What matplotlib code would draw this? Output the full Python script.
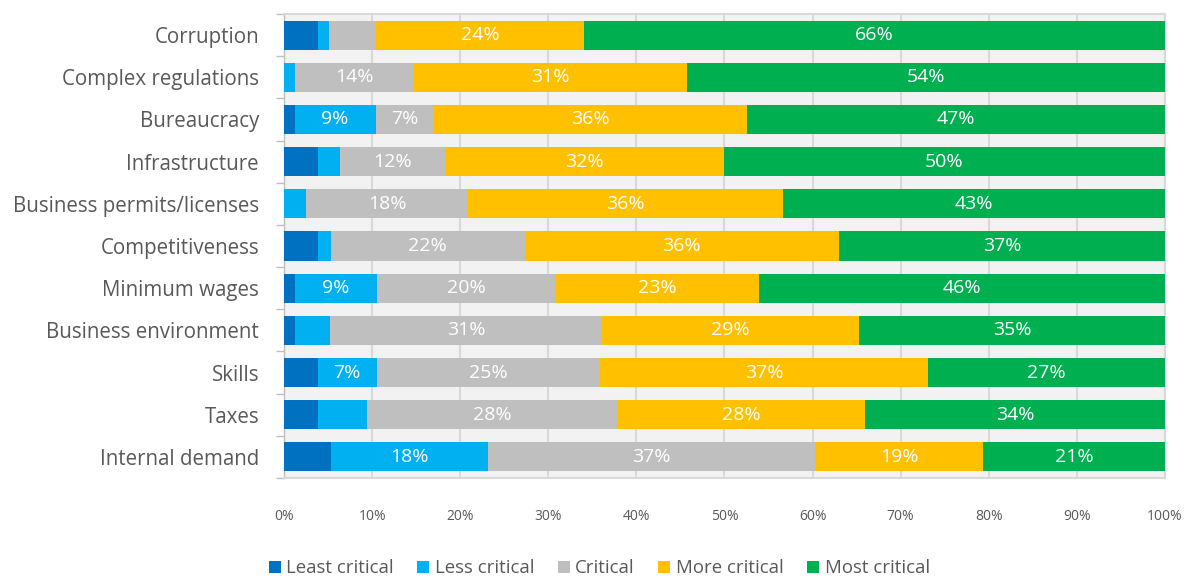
import matplotlib
matplotlib.use("Agg")
import matplotlib.pyplot as plt
import numpy as np

categories = ["Corruption", "Complex regulations", "Bureaucracy", "Infrastructure",
              "Business permits/licenses", "Competitiveness", "Minimum wages",
              "Business environment", "Skills", "Taxes", "Internal demand"]
series_names = ["Least critical", "Less critical", "Critical", "More critical", "Most critical"]
least_critical = [3.8, 0.0, 1.2, 3.8, 0.0, 3.9, 1.2, 1.2, 3.8, 3.9, 5.3]
less_critical = [1.3, 1.2, 9.2, 2.6, 2.5, 1.4, 9.4, 4.0, 6.7, 5.5, 17.8]
critical = [5.3, 13.5, 6.6, 11.9, 18.4, 22.0, 20.3, 30.9, 25.4, 28.4, 37.2]
more_critical = [23.7, 31.1, 35.6, 31.6, 35.7, 35.7, 23.0, 29.2, 37.2, 28.2, 19.1]
most_critical = [65.9, 54.2, 47.4, 50.1, 43.4, 37.0, 46.1, 34.7, 26.9, 34.0, 20.6]
x_ticks = [0, 10, 20, 30, 40, 50, 60, 70, 80, 90, 100]
x_tick_labels = ["0%", "10%", "20%", "30%", "40%", "50%", "60%", "70%", "80%", "90%", "100%"]

colors = ["#0070C0", "#00B0F0", "#BFBFBF", "#FFC000", "#00B050"]
plt.rcParams['font.family'] = ['Open Sans', 'DejaVu Sans']
text_grey = "#595959"

fig = plt.figure(figsize=(11.84, 5.78), dpi=100)
ax = fig.add_axes([0.2399, 0.173, 0.744, 0.8028])
ax.set_facecolor("#F2F2F2")

y = np.arange(len(categories))
data = [least_critical, less_critical, critical, more_critical, most_critical]
left = np.zeros(len(categories))
handles = []
for name, vals, c in zip(series_names, data, colors):
    vals = np.array(vals)
    b = ax.barh(y, vals, left=left, height=0.69, color=c, label=name, zorder=3)
    handles.append(b)
    for yi, (l, v) in enumerate(zip(left, vals)):
        if v >= 6:
            ax.text(l + v / 2, yi, f"{v:.0f}%", ha="center", va="center",
                    color="white", fontsize=14, zorder=4)
    left = left + vals

ax.set_xlim(0, 100)
ax.set_ylim(len(categories) - 0.5, -0.5)
ax.set_xticks(x_ticks)
ax.set_xticklabels(x_tick_labels, fontsize=10, color=text_grey)
ax.tick_params(axis="x", length=0, pad=22)
ax.set_yticks(y)
ax.set_yticklabels(categories, fontsize=14.8, color=text_grey)
ax.tick_params(axis="y", which="major", length=0, pad=18)
ax.set_yticks(np.arange(-0.5, len(categories) + 0.5, 1), minor=True)
ax.tick_params(axis="y", which="minor", length=6, color="#BFBFBF", width=1)
ax.grid(axis="x", color="#D9D9D9", linewidth=1.5, zorder=1)
for s in ["top", "right", "bottom"]:
    ax.spines[s].set_color("#D9D9D9")
    ax.spines[s].set_linewidth(1.5)
ax.spines["left"].set_color("#BFBFBF")
ax.spines["left"].set_linewidth(1)

fig.legend(handles=handles, labels=series_names, loc="lower center",
           bbox_to_anchor=(0.506, -0.028), ncol=5, frameon=False,
           fontsize=13.4, labelcolor=text_grey, handlelength=0.65, handleheight=0.65,
           handletextpad=0.3, columnspacing=1.25)

fig.savefig("out.png", dpi=100)
